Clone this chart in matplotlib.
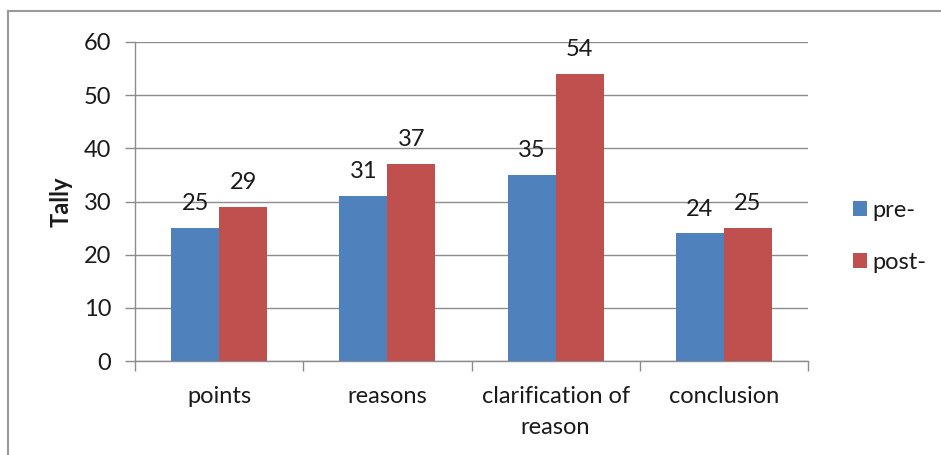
import matplotlib.pyplot as plt
import numpy as np
from matplotlib.lines import Line2D

# chart values
categories = ['points', 'reasons', 'clarification of\nreason', 'conclusion']
pre_values = [25, 31, 35, 24]
post_values = [29, 37, 54, 25]
series_names = ['pre-', 'post-']

blue = '#4F81BD'
red = '#C0504D'
grid_gray = '#8C8C8C'
text_col = '#1A1A1A'
fs = 17

plt.rcParams['font.family'] = ['Lato', 'DejaVu Sans']

fig = plt.figure(figsize=(9.41, 4.55), dpi=100)
ax = fig.add_axes([135 / 941, 1 - 361 / 455, (808 - 135) / 941, (361 - 42) / 455])

x = np.arange(len(categories))
w = 0.286
b1 = ax.bar(x - w / 2, pre_values, w, color=blue, label=series_names[0], zorder=3)
b2 = ax.bar(x + w / 2, post_values, w, color=red, label=series_names[1], zorder=3)

# value labels above bars
for bars in (b1, b2):
    for rect in bars:
        h = rect.get_height()
        ax.annotate(str(int(h)), (rect.get_x() + rect.get_width() / 2, h),
                    xytext=(0, 10), textcoords='offset points',
                    ha='center', va='bottom', fontsize=fs, color=text_col)

ax.set_ylim(0, 60)
ax.set_yticks(range(0, 61, 10))
ax.set_xlim(-0.5, len(categories) - 0.5)
ax.set_xticks(x)
ax.set_xticklabels(categories, fontsize=fs, color=text_col, linespacing=1.6)
ax.set_xticks(np.arange(-0.5, len(categories), 1), minor=True)
ax.tick_params(axis='x', which='major', length=0, pad=18)
ax.tick_params(axis='x', which='minor', length=7, color=grid_gray, width=1)
ax.tick_params(axis='y', length=7, color=grid_gray, width=1, labelsize=fs,
               labelcolor=text_col, pad=10)

ax.yaxis.grid(True, color=grid_gray, linewidth=1)
ax.set_axisbelow(True)
for side in ['top', 'right']:
    ax.spines[side].set_visible(False)
for side in ['left', 'bottom']:
    ax.spines[side].set_color(grid_gray)
    ax.spines[side].set_linewidth(1)

ax.set_ylabel('Tally', fontsize=17, fontweight='bold', color=text_col, labelpad=8)

ax.legend(loc='center left', bbox_to_anchor=(1.035, 0.39), frameon=False,
          fontsize=fs, handlelength=0.6, handleheight=0.6, handletextpad=0.25,
          labelspacing=1.3, labelcolor=text_col)

# chart outer border (only top and left edge visible in the crop)
fig.add_artist(Line2D([8 / 941, 1], [1 - 11 / 455, 1 - 11 / 455], color='#999999', linewidth=1.5,
                      transform=fig.transFigure))
fig.add_artist(Line2D([8 / 941, 8 / 941], [0, 1 - 11 / 455], color='#999999', linewidth=1.5,
                      transform=fig.transFigure))

fig.savefig('out.png', dpi=100)
